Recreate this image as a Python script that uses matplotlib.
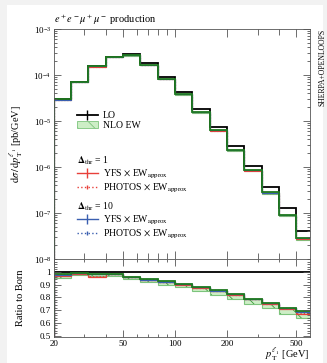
import numpy as np
import matplotlib
matplotlib.use("Agg")
import matplotlib.pyplot as plt
from matplotlib.lines import Line2D
from matplotlib.patches import Patch, Rectangle
from matplotlib.ticker import LogLocator, FixedLocator, FixedFormatter, NullFormatter, MultipleLocator

plt.rcParams['font.family'] = ['Liberation Serif', 'DejaVu Serif']
plt.rcParams['mathtext.fontset'] = 'stix'
plt.rcParams['hatch.linewidth'] = 0.6
plt.rcParams['hatch.color'] = '#3a9a3a'

# bin edges (log spaced, 10 per decade)
edges = [20.0, 25.1, 31.6, 39.8, 50.1, 63.1, 79.4, 100.0, 125.9, 158.5,
         199.5, 251.2, 316.2, 398.1, 501.2, 631.0]
lo = [3.0e-5, 7.2e-5, 1.57e-4, 2.5e-4, 2.8e-4, 1.8e-4, 8.9e-5, 4.2e-5, 1.8e-5,
      7.3e-6, 2.86e-6, 1.07e-6, 3.7e-7, 1.28e-7, 4.1e-8]
# ratios to Born
nlo_ratio = [0.98, 0.99, 0.985, 0.985, 0.96, 0.94, 0.925, 0.905, 0.88,
             0.855, 0.825, 0.79, 0.755, 0.72, 0.69]
band_lo = [0.955, 0.975, 0.965, 0.97, 0.94, 0.92, 0.90, 0.88, 0.85,
           0.82, 0.79, 0.75, 0.715, 0.67, 0.635]
yfs1 = [0.97, 0.985, 0.96, 0.98, 0.958, 0.937, 0.92, 0.90, 0.876,
        0.85, 0.82, 0.785, 0.75, 0.712, 0.672]
photos1 = [0.975, 0.987, 0.965, 0.982, 0.959, 0.938, 0.921, 0.901, 0.877,
           0.851, 0.821, 0.787, 0.752, 0.714, 0.675]
yfs10 = [0.978, 0.99, 0.982, 0.984, 0.959, 0.939, 0.923, 0.903, 0.879,
         0.853, 0.823, 0.788, 0.753, 0.716, 0.682]
photos10 = [0.979, 0.989, 0.983, 0.984, 0.96, 0.94, 0.924, 0.904, 0.879,
            0.854, 0.824, 0.789, 0.754, 0.717, 0.684]

lo = np.array(lo)
green_dark = '#1f7a1f'
green_light = '#cdeec6'
green_edge = '#7cc47c'
red = '#e8403a'
blue = '#3a5fb0'

fig = plt.figure(figsize=(3.27, 3.63), dpi=100, facecolor='#f2f2f2')
fig.patches.append(Rectangle((0.02, 0.0), 0.968, 0.985, transform=fig.transFigure,
                             facecolor='white', edgecolor='none', zorder=-10))
ax = fig.add_axes([0.165, 0.2865, 0.783, 0.6335])
rx = fig.add_axes([0.165, 0.0716, 0.783, 0.2149], sharex=ax)

def band(a, low, high):
    a.stairs(high, edges, baseline=low, fill=True, facecolor=green_light,
             hatch='\\\\', lw=0)
    a.stairs(low, edges, color=green_edge, lw=0.8)
    a.stairs(high, edges, color=green_edge, lw=0.8)

# main panel
band(ax, lo * np.array(band_lo), lo * np.array(nlo_ratio))
ax.stairs(lo, edges, color='black', lw=1.3)
for vals, c, ls in [(yfs1, red, '-'), (photos1, red, ':'),
                    (yfs10, blue, '-'), (photos10, blue, ':')]:
    ax.stairs(lo * np.array(vals), edges, color=c, lw=0.8, ls=ls)
ax.stairs(lo * np.array(nlo_ratio), edges, color=green_dark, lw=1.3)

ax.set_xscale('log')
ax.set_yscale('log')
ax.set_xlim(20, 600)
ax.set_ylim(1e-8, 1e-3)
ax.set_ylabel(r'$\mathrm{d}\sigma\,/\,\mathrm{d}p_\mathrm{T}^{\ell_1}$ [pb/GeV]', fontsize=7.5)
ax.text(0.0, 1.01, r'$e^+e^-\mu^+\mu^-$ production', transform=ax.transAxes,
        fontsize=7.5, va='bottom')
ax.text(1.035, 1.0, 'SHERPA+OPENLOOPS', transform=ax.transAxes, rotation=90,
        fontsize=5.5, va='top', ha='left')
ax.yaxis.set_major_locator(LogLocator(base=10, numticks=10))
ax.yaxis.set_minor_locator(LogLocator(base=10, subs=np.arange(2, 10), numticks=20))
ax.yaxis.set_minor_formatter(NullFormatter())
plt.setp(ax.get_xticklabels(), visible=False)

# ratio panel
band(rx, band_lo, nlo_ratio)
rx.stairs(lo / lo, edges, color='black', lw=1.3)
for vals, c, ls in [(yfs1, red, '-'), (photos1, red, ':'),
                    (yfs10, blue, '-'), (photos10, blue, ':')]:
    rx.stairs(vals, edges, color=c, lw=0.9, ls=ls)
rx.stairs(nlo_ratio, edges, color=green_dark, lw=1.3)
rx.set_ylim(0.49, 1.1)
rx.set_ylabel('Ratio to Born', fontsize=7.5)
rx.set_xlabel(r'$p_\mathrm{T}^{\ell_1}$ [GeV]', fontsize=7.5, loc='right', labelpad=-1)
rx.yaxis.set_major_locator(FixedLocator([0.5, 0.6, 0.7, 0.8, 0.9, 1.0]))
rx.yaxis.set_minor_locator(MultipleLocator(0.02))
rx.set_yticklabels(['0.5', '0.6', '0.7', '0.8', '0.9', '1'])
rx.xaxis.set_major_locator(FixedLocator([20, 50, 100, 200, 500]))
rx.xaxis.set_major_formatter(FixedFormatter(['20', '50', '100', '200', '500']))
rx.xaxis.set_minor_locator(FixedLocator([30, 40, 60, 70, 80, 90, 300, 400]))
rx.xaxis.set_minor_formatter(NullFormatter())

for a in (ax, rx):
    a.tick_params(which='both', direction='in', top=True, right=True,
                  labelsize=6.5, width=0.6, color='#555555', pad=2)
    a.tick_params(which='major', length=5)
    a.tick_params(which='minor', length=2.5)
    for s in a.spines.values():
        s.set_linewidth(0.6)
        s.set_color('#555555')
ax.tick_params(axis='x', which='major', length=6)
ax.tick_params(axis='x', which='minor', length=4)

# legends
h_lo = Line2D([], [], color='black', lw=1.3, marker='|', markersize=7, mew=1.0)
h_nlo = Patch(facecolor=green_light, edgecolor=green_edge, hatch='\\\\', lw=0.6)
leg1 = ax.legend([h_lo, h_nlo], ['LO', 'NLO EW'], loc='upper left',
                 bbox_to_anchor=(0.07, 0.665), frameon=False, fontsize=7,
                 handlelength=2.2, handletextpad=0.5, labelspacing=0.1, borderpad=0)
ax.add_artist(leg1)
app = r'EW$_\mathrm{approx}$'
h_y1 = Line2D([], [], color=red, lw=1.0, marker='|', markersize=7)
h_p1 = Line2D([], [], color=red, lw=1.0, ls=':', marker='|', markersize=3)
leg2 = ax.legend([h_y1, h_p1], [r'YFS $\times$ ' + app, r'PHOTOS $\times$ ' + app],
                 title=r'$\mathbf{\Delta}_\mathrm{thr}$ = 1', loc='upper left',
                 bbox_to_anchor=(0.07, 0.475), frameon=False, fontsize=7,
                 title_fontsize=7, handlelength=2.2, handletextpad=0.5,
                 labelspacing=0.1, borderpad=0)
leg2._legend_box.align = 'left'
ax.add_artist(leg2)
h_y10 = Line2D([], [], color=blue, lw=1.0, marker='|', markersize=7)
h_p10 = Line2D([], [], color=blue, lw=1.0, ls=':', marker='|', markersize=3)
leg3 = ax.legend([h_y10, h_p10], [r'YFS $\times$ ' + app, r'PHOTOS $\times$ ' + app],
                 title=r'$\mathbf{\Delta}_\mathrm{thr}$ = 10', loc='upper left',
                 bbox_to_anchor=(0.07, 0.275), frameon=False, fontsize=7,
                 title_fontsize=7, handlelength=2.2, handletextpad=0.5,
                 labelspacing=0.1, borderpad=0)
leg3._legend_box.align = 'left'

ax.yaxis.set_label_coords(-0.115, 0.5)
rx.yaxis.set_label_coords(-0.115, 0.5)

fig.savefig('out.png', dpi=100, facecolor=fig.get_facecolor())
